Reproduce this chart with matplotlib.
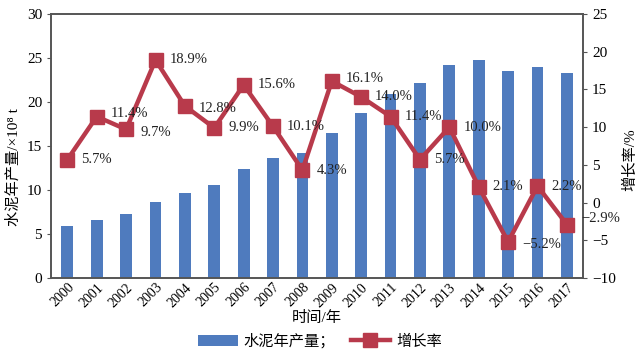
import numpy as np
import matplotlib
matplotlib.use('Agg')
import matplotlib.pyplot as plt

plt.rcParams['font.family'] = ['Liberation Serif', 'Noto Sans CJK SC', 'DejaVu Sans']
plt.rcParams['axes.unicode_minus'] = True

years = [str(y) for y in range(2000, 2018)]
output = [5.9, 6.6, 7.3, 8.6, 9.7, 10.6, 12.4, 13.6, 14.2, 16.5,
          18.8, 20.9, 22.1, 24.2, 24.8, 23.5, 24.0, 23.3]
growth = [5.7, 11.4, 9.7, 18.9, 12.8, 9.9, 15.6, 10.1, 4.3, 16.1,
          14.0, 11.4, 5.7, 10.0, 2.1, -5.2, 2.2, -2.9]
label_dy = [0, 2, -2, 0, -2, 0, 0, 0, 0, 2,
            0, 0, 0, 0, 0, -2, 0, 4]

bar_color = '#4F7BBE'
line_color = '#B83A4B'

fig = plt.figure(figsize=(6.4, 3.57), dpi=100)
ax = fig.add_axes([0.080, 0.221, 0.831, 0.740])
x = np.arange(len(years))
bars = ax.bar(x, output, width=0.4, color=bar_color, label='水泥年产量；')
ax.set_ylim(0, 30)
ax.set_yticks(range(0, 31, 5))
ax.set_xlim(-0.55, len(years) - 0.45)
ax.set_xticks(x)
ax.set_xticklabels(years, rotation=45, ha='right', rotation_mode='anchor', fontsize=10)
ax.tick_params(axis='y', labelsize=11, direction='out', length=3, color='#555555')
ax.tick_params(axis='x', length=0, pad=2)
ax.set_ylabel('水泥年产量/×10\u2078 t', fontsize=11)
ax.yaxis.set_label_coords(-0.058, 0.42)
ax.set_xlabel('时间/年', fontsize=11, labelpad=1)
for s in ax.spines.values():
    s.set_color('#555555')
    s.set_linewidth(1.2)

ax2 = ax.twinx()
line, = ax2.plot(x, growth, color=line_color, lw=3.2, marker='s', ms=10,
                 label='增长率')
ax2.set_ylim(-10, 25)
ax2.set_yticks(range(-10, 26, 5))
ax2.tick_params(axis='y', labelsize=11, direction='out', length=3, color='#555555')
ax2.set_ylabel('增长率/%', fontsize=11)
ax2.yaxis.set_label_coords(1.075, 0.45)
for s in ax2.spines.values():
    s.set_color('#555555')
    s.set_linewidth(1.2)

for xi, g, dy in zip(x, growth, label_dy):
    txt = f'{g:.1f}%'.replace('-', '\u2212')
    ax2.annotate(txt, (xi, g), xytext=(10, dy), textcoords='offset points',
                 ha='left', va='center', fontsize=10.5, color='#222222')

fig.legend([bars, line], ['水泥年产量；', '增长率'], loc='lower center',
           bbox_to_anchor=(0.5, -0.015), ncol=2, frameon=False, fontsize=11,
           handlelength=2.6, columnspacing=1.0, handletextpad=0.4)

fig.savefig('out.png', dpi=100)
